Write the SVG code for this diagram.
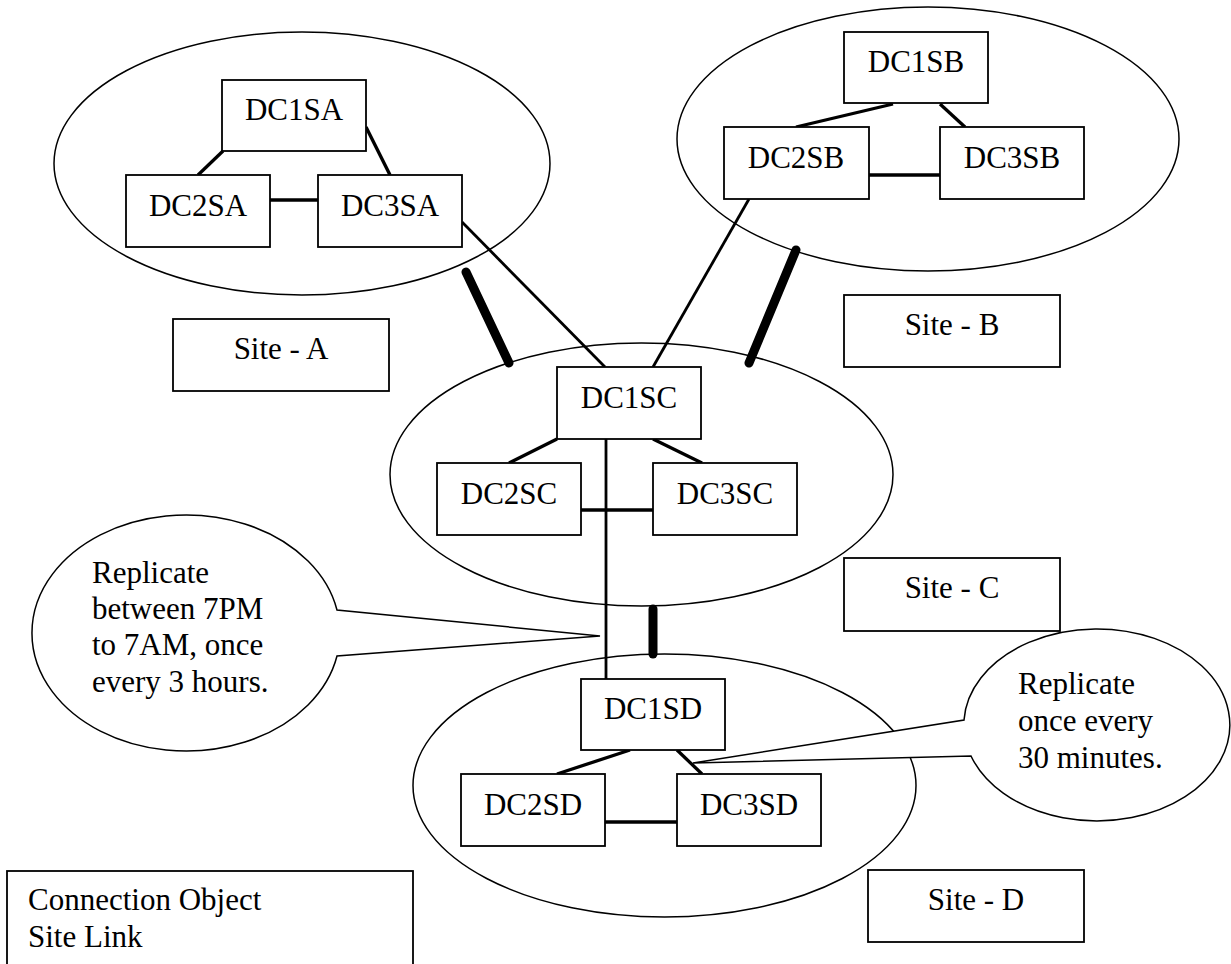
<svg xmlns="http://www.w3.org/2000/svg" width="1231" height="964" viewBox="0 0 1231 964">
<style>
text{font-family:"Liberation Serif",Tinos,"Times New Roman","DejaVu Serif",serif;font-size:31px;fill:#000}
.c{text-anchor:middle}
.box{fill:#fff;stroke:#000;stroke-width:1.8}
.site{fill:none;stroke:#000;stroke-width:1.5}
.call{fill:#fff;stroke:#000;stroke-width:1.5;stroke-linejoin:miter}
.ln{stroke:#000;stroke-width:3.3;fill:none}
.lnl{stroke:#000;stroke-width:2.8;fill:none}
.sl{stroke:#000;stroke-width:9;stroke-linecap:round;fill:none}
</style>
<rect width="1231" height="964" fill="#fff"/>
<g id="sites">
<ellipse id="siteA-ellipse" class="site" cx="302" cy="163.5" rx="248" ry="131.5"/>
<ellipse id="siteB-ellipse" class="site" cx="928" cy="139" rx="251" ry="132"/>
<ellipse id="siteC-ellipse" class="site" cx="641.5" cy="474.5" rx="251.5" ry="131.5"/>
<ellipse id="siteD-ellipse" class="site" cx="664.5" cy="785.5" rx="251.5" ry="131.5"/>
</g>
<g id="connectors">
<line class="ln" x1="223" y1="151" x2="198" y2="175"/>
<line class="ln" x1="366" y1="127" x2="390" y2="175"/>
<line class="ln" x1="270" y1="200" x2="318" y2="200"/>
<line class="ln" x1="893" y1="104" x2="796" y2="127"/>
<line class="ln" x1="940" y1="104" x2="965" y2="127"/>
<line class="ln" x1="869" y1="175" x2="940" y2="175"/>
<line class="ln" x1="557" y1="439" x2="509" y2="463"/>
<line class="ln" x1="653" y1="439" x2="702" y2="463"/>
<line class="ln" x1="581" y1="510" x2="653" y2="510"/>
<line class="ln" x1="630" y1="750" x2="557" y2="774"/>
<line class="ln" x1="677" y1="750" x2="702" y2="774"/>
<line class="ln" x1="605" y1="822" x2="677" y2="822"/>
<line class="lnl" x1="462" y1="222" x2="605" y2="367"/>
<line class="lnl" x1="749" y1="199" x2="653" y2="367"/>
<line class="lnl" x1="606" y1="439" x2="606" y2="679"/>
<line class="sl" x1="466" y1="272" x2="509" y2="363"/>
<line class="sl" x1="796" y1="250" x2="749" y2="363"/>
<line class="sl" x1="653" y1="609" x2="653" y2="654"/>
</g>
<g font-family="Liberation Serif, Tinos, Times New Roman, serif">
<g id="DC1SA"><rect class="box" x="222" y="80" width="144" height="71"/><text class="c" x="294" y="120">DC1SA</text></g>
<g id="DC2SA"><rect class="box" x="126" y="175" width="144" height="72"/><text class="c" x="198" y="216">DC2SA</text></g>
<g id="DC3SA"><rect class="box" x="318" y="175" width="144" height="72"/><text class="c" x="390" y="216">DC3SA</text></g>
<g id="DC1SB"><rect class="box" x="844" y="32" width="144" height="71"/><text class="c" x="916" y="72">DC1SB</text></g>
<g id="DC2SB"><rect class="box" x="724" y="127" width="145" height="72"/><text class="c" x="796" y="168">DC2SB</text></g>
<g id="DC3SB"><rect class="box" x="940" y="127" width="144" height="72"/><text class="c" x="1012" y="168">DC3SB</text></g>
<g id="DC1SC"><rect class="box" x="557" y="367" width="144" height="72"/><text class="c" x="629" y="408">DC1SC</text></g>
<g id="DC2SC"><rect class="box" x="437" y="463" width="144" height="72"/><text class="c" x="509" y="504">DC2SC</text></g>
<g id="DC3SC"><rect class="box" x="653" y="463" width="144" height="72"/><text class="c" x="725" y="504">DC3SC</text></g>
<g id="DC1SD"><rect class="box" x="581" y="679" width="144" height="71"/><text class="c" x="653" y="719">DC1SD</text></g>
<g id="DC2SD"><rect class="box" x="461" y="774" width="144" height="72"/><text class="c" x="533" y="815">DC2SD</text></g>
<g id="DC3SD"><rect class="box" x="677" y="774" width="144" height="72"/><text class="c" x="749" y="815">DC3SD</text></g>
<g id="label-site-a"><rect class="box" x="173" y="319" width="216" height="72"/><text class="c" x="281" y="359">Site - A</text></g>
<g id="label-site-b"><rect class="box" x="844" y="295" width="216" height="72"/><text class="c" x="952" y="335">Site - B</text></g>
<g id="label-site-c"><rect class="box" x="844" y="558" width="216" height="73"/><text class="c" x="952" y="598">Site - C</text></g>
<g id="label-site-d"><rect class="box" x="868" y="870" width="216" height="72"/><text class="c" x="976" y="910">Site - D</text></g>
<g id="callout-left">
<path class="call" d="M337,610 A154,118 0 1 0 337,656 L600,636 Z"/>
<text x="92" y="583">Replicate</text>
<text x="92" y="619">between 7PM</text>
<text x="92" y="655">to 7AM, once</text>
<text x="92" y="692">every 3 hours.</text>
</g>
<g id="callout-right">
<path class="call" d="M964,720 A133,96 0 1 1 971,756 L693,763 Z"/>
<text x="1018" y="694">Replicate</text>
<text x="1018" y="731">once every</text>
<text x="1018" y="768">30 minutes.</text>
</g>
<g id="legend">
<rect class="box" x="7" y="871" width="406" height="110"/>
<text x="28" y="910">Connection Object</text>
<text x="28" y="947">Site Link</text>
</g>
</g>
</svg>
